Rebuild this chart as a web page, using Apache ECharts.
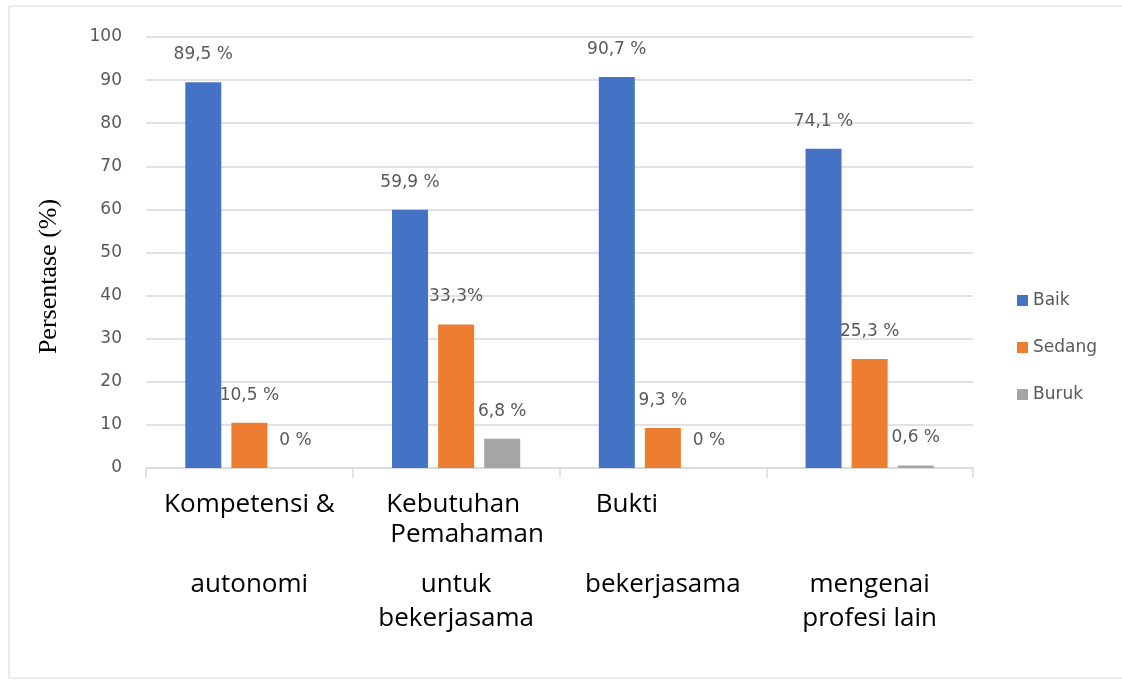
<!DOCTYPE html>
<html>
<head>
<meta charset="utf-8">
<script src="https://cdn.jsdelivr.net/npm/echarts@6/dist/echarts.min.js"></script>
<style>
  html, body { margin: 0; padding: 0; background: #fff; }
  #main { width: 1122px; height: 683px; }
</style>
</head>
<body>
<div id="main"></div>
<script>
var chart = echarts.init(document.getElementById('main'));

// kategori (baris-baris label sumbu x)
var categories = [
  ['Kompetensi &', '', 'autonomi', ''],
  ['Kebutuhan', 'Pemahaman', 'untuk', 'bekerjasama'],
  ['Bukti', '', 'bekerjasama', ''],
  ['', '', 'mengenai', 'profesi lain']
];
var baik = [89.5, 59.9, 90.7, 74.1];
var sedang = [10.5, 33.3, 9.3, 25.3];
var buruk = [0, 6.8, 0, 0.6];
var yTicks = [0, 10, 20, 30, 40, 50, 60, 70, 80, 90, 100];

var grey = '#595959';
var numFont = 'DejaVu Sans';
var catFont = 'Open Sans';

function pct(sep) {
  return function (p) {
    var s = sep ? sep[p.dataIndex] : ' ';
    return String(p.value).replace('.', ',') + s + '%';
  };
}

function catLabel(v, i) {
  var l = categories[i];
  var s1 = i === 1 ? 'k' : (i === 2 ? 'b' : 'a');
  var s2 = i === 1 ? 'p' : 'a';
  return '{' + s1 + '|' + (l[0] || ' ') + '}\n{' + s2 + '|' + (l[1] || ' ') + '}\n{s| }\n{c|' +
    (l[2] || ' ') + '}\n{c|' + (l[3] || ' ') + '}';
}

function catStyle(lh, pad) {
  return { fontSize: 26, fontFamily: catFont, color: '#000', lineHeight: lh, padding: pad || 0 };
}

var option = {
  backgroundColor: '#fff',
  color: ['#4472C4', '#ED7D31', '#A5A5A5'],
  graphic: [{
    type: 'rect',
    shape: { x: 9, y: 6, width: 1120, height: 672 },
    style: { fill: 'none', stroke: '#d9d9d9', lineWidth: 1 }
  }],
  legend: {
    orient: 'vertical',
    left: 1012,
    top: 287,
    itemGap: 30,
    itemWidth: 11,
    itemHeight: 11,
    icon: 'rect',
    textStyle: { color: grey, fontSize: 17, fontFamily: numFont },
    data: ['Baik', 'Sedang', 'Buruk']
  },
  grid: { left: 146, right: 149, top: 37, bottom: 215 },
  xAxis: {
    type: 'category',
    data: categories.map(function (c) { return c.join(' '); }),
    axisLine: { lineStyle: { color: '#d9d9d9', width: 1.5 } },
    axisTick: { show: true, length: 10, lineStyle: { color: '#d9d9d9', width: 1.5 } },
    axisLabel: {
      interval: 0,
      margin: 22,
      formatter: catLabel,
      rich: {
        a: catStyle(30),
        k: catStyle(30, [0, 6, 0, 0]),
        p: catStyle(30, [0, 0, 0, 22]),
        b: catStyle(30, [0, 72, 0, 0]),
        s: { fontSize: 10, lineHeight: 18 },
        c: catStyle(34)
      }
    }
  },
  yAxis: {
    type: 'value',
    min: yTicks[0],
    max: yTicks[yTicks.length - 1],
    interval: 10,
    name: 'Persentase (%)',
    nameLocation: 'middle',
    nameGap: 84,
    nameTextStyle: { fontFamily: 'Liberation Serif', fontSize: 26, color: '#000', padding: [0, 48, 0, 0] },
    axisLine: { show: false },
    axisTick: { show: false },
    axisLabel: { color: grey, fontSize: 17, fontFamily: numFont, margin: 24 },
    splitLine: { lineStyle: { color: '#d9d9d9', width: 1.5 } }
  },
  series: [
    {
      name: 'Baik', type: 'bar', data: baik,
      barCategoryGap: '38%', barGap: '28%',
      label: { show: true, position: 'top', distance: 19, color: grey, fontSize: 17, fontFamily: numFont, formatter: pct() }
    },
    {
      name: 'Sedang', type: 'bar', data: sedang,
      label: { show: true, position: 'top', distance: 19, color: grey, fontSize: 17, fontFamily: numFont, formatter: pct([' ', '', ' ', ' ']) }
    },
    {
      name: 'Buruk', type: 'bar', data: buruk,
      label: { show: true, position: 'top', distance: 19, color: grey, fontSize: 17, fontFamily: numFont, formatter: pct() }
    }
  ]
};

chart.setOption(option);
</script>
</body>
</html>
